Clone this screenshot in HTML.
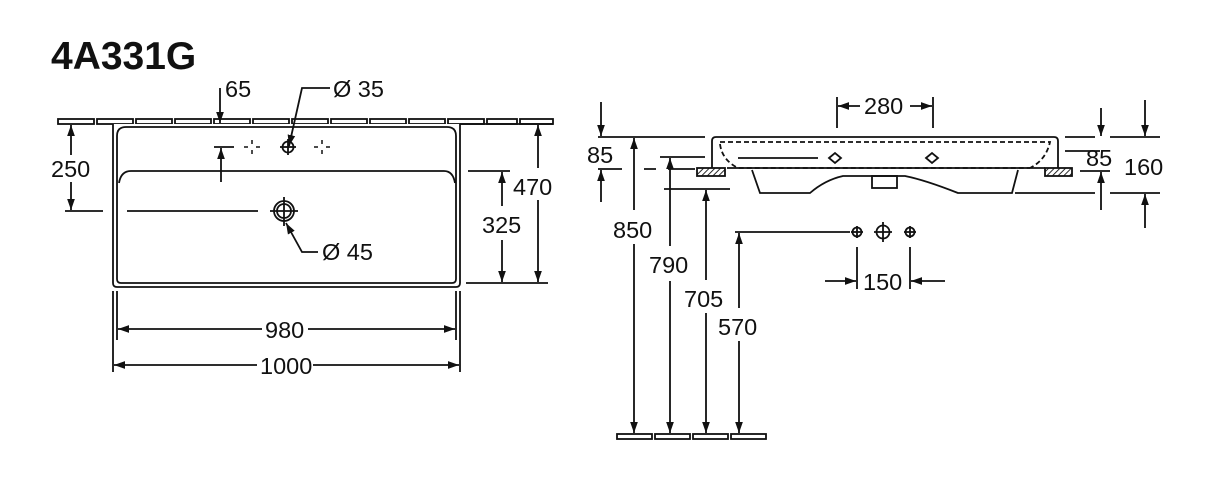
<!DOCTYPE html>
<html><head><meta charset="utf-8"><style>
html,body{margin:0;padding:0;background:#fff;}
svg{display:block;}
text{font-family:"Liberation Sans",Arial,sans-serif;font-size:23.5px;fill:#111;}
</style></head><body>
<svg width="1218" height="494" viewBox="0 0 1218 494" xmlns="http://www.w3.org/2000/svg">
<defs>
<marker id="a" viewBox="0 0 10 10" refX="10" refY="5" markerWidth="11" markerHeight="11" markerUnits="userSpaceOnUse" orient="auto-start-reverse"><path d="M0,1.5 L10,5 L0,8.5 Z" fill="#111"/></marker>
<pattern id="h" width="4" height="4" patternUnits="userSpaceOnUse" patternTransform="rotate(45)"><rect width="4" height="4" fill="#fff"/><line x1="0" y1="0" x2="0" y2="4" stroke="#111" stroke-width="1.8"/></pattern>
</defs>
<g stroke="#111" stroke-width="1.8" fill="none">
<text x="51" y="69" style="font-size:39px;font-weight:bold" stroke="none">4A331G</text>

<g>
<rect x="58" y="119" width="36" height="5"/><rect x="97" y="119" width="36" height="5"/><rect x="136" y="119" width="36" height="5"/><rect x="175" y="119" width="36" height="5"/><rect x="214" y="119" width="36" height="5"/><rect x="253" y="119" width="36" height="5"/><rect x="292" y="119" width="36" height="5"/><rect x="331" y="119" width="36" height="5"/><rect x="370" y="119" width="36" height="5"/><rect x="409" y="119" width="36" height="5"/><rect x="448" y="119" width="36" height="5"/><rect x="487" y="119" width="30" height="5"/><rect x="520" y="119" width="33" height="5"/>
</g>
<path d="M113,124 V283 Q113,287 117,287 H456 Q460,287 460,283 V124" fill="#fff"/>
<path d="M117,136 Q117,127 126,127 H447 Q456,127 456,136 V279 Q456,283 452,283 H121 Q117,283 117,279 Z"/>
<path d="M119,183 Q121,171 131,171 H444 Q453,171 455,183"/>
<circle cx="288" cy="147" r="5.5"/><line x1="280" y1="147" x2="296" y2="147"/><line x1="288" y1="139" x2="288" y2="155"/>
<g stroke-width="1.5"><line x1="244" y1="147" x2="248" y2="147"/><line x1="256" y1="147" x2="260" y2="147"/><line x1="252" y1="140" x2="252" y2="144"/><line x1="252" y1="150" x2="252" y2="154"/>
<line x1="314" y1="147" x2="318" y2="147"/><line x1="326" y1="147" x2="330" y2="147"/><line x1="322" y1="140" x2="322" y2="144"/><line x1="322" y1="150" x2="322" y2="154"/></g>
<circle cx="284" cy="211" r="10"/><circle cx="284" cy="211" r="7"/><line x1="270" y1="211" x2="298" y2="211"/><line x1="284" y1="197" x2="284" y2="226"/>
<line x1="127" y1="211" x2="258" y2="211"/>
<line x1="65" y1="211" x2="103" y2="211"/>
<line x1="71" y1="155" x2="71" y2="125" marker-end="url(#a)"/>
<line x1="71" y1="182" x2="71" y2="210" marker-end="url(#a)"/>
<text x="51" y="177" stroke="none">250</text>
<line x1="220" y1="88" x2="220" y2="123" marker-end="url(#a)"/>
<line x1="214" y1="147" x2="234" y2="147"/>
<line x1="221" y1="182" x2="221" y2="148" marker-end="url(#a)"/>
<text x="225" y="97" stroke="none">65</text>
<path d="M330,88 H302 L289,146" marker-end="url(#a)"/>
<text x="333" y="97" stroke="none">Ø 35</text>
<path d="M318,252 H302 L286,223" marker-end="url(#a)"/>
<text x="322" y="260" stroke="none">Ø 45</text>
<line x1="468" y1="171" x2="510" y2="171"/>
<line x1="466" y1="283" x2="548" y2="283"/>
<line x1="460" y1="124" x2="553" y2="124"/>
<line x1="502" y1="206" x2="502" y2="172" marker-end="url(#a)"/>
<line x1="502" y1="240" x2="502" y2="282" marker-end="url(#a)"/>
<text x="482" y="233" stroke="none">325</text>
<line x1="538" y1="168" x2="538" y2="125" marker-end="url(#a)"/>
<line x1="538" y1="200" x2="538" y2="282" marker-end="url(#a)"/>
<text x="513" y="195" stroke="none">470</text>
<line x1="117" y1="291" x2="117" y2="340"/><line x1="456" y1="291" x2="456" y2="340"/>
<line x1="113" y1="291" x2="113" y2="372"/><line x1="460" y1="291" x2="460" y2="372"/>
<line x1="262" y1="329" x2="118" y2="329" marker-end="url(#a)"/>
<line x1="308" y1="329" x2="455" y2="329" marker-end="url(#a)"/>
<text x="265" y="338" stroke="none">980</text>
<line x1="257" y1="365" x2="114" y2="365" marker-end="url(#a)"/>
<line x1="313" y1="365" x2="459" y2="365" marker-end="url(#a)"/>
<text x="260" y="374" stroke="none">1000</text>

<path d="M712,168 V141 Q712,137 716,137 H1054 Q1058,137 1058,141 V168"/>
<path d="M720,142 H1050 Q1046,160 1030,168" stroke-dasharray="5,3"/>
<path d="M720,144 Q722,160 738,168 H1030" stroke-dasharray="5,3"/>
<line x1="727" y1="168" x2="1045" y2="168"/>
<path d="M752,170 L760,193 H810 Q825,180 843,176 H905 Q925,180 958,193 H1012 L1018,170"/>
<rect x="872" y="176" width="25" height="12"/>
<line x1="738" y1="158" x2="818" y2="158"/>
<path d="M829,158 L835,153 L841,158 L835,163 Z"/><path d="M926,158 L932,153 L938,158 L932,163 Z"/>
<rect x="697" y="168" width="28" height="8" fill="url(#h)"/>
<rect x="1045" y="168" width="27" height="8" fill="url(#h)"/>
<line x1="598" y1="137" x2="705" y2="137"/>
<line x1="660" y1="157" x2="705" y2="157"/>
<path d="M598,169 H622 M644,169 H656 M668,169 H695" />
<line x1="664" y1="189" x2="730" y2="189"/>
<line x1="1065" y1="137" x2="1095" y2="137"/><line x1="1110" y1="137" x2="1160" y2="137"/>
<line x1="1065" y1="151" x2="1100" y2="151"/>
<line x1="1080" y1="171" x2="1110" y2="171"/>
<line x1="1015" y1="193" x2="1095" y2="193"/><line x1="1110" y1="193" x2="1160" y2="193"/>
<line x1="601" y1="102" x2="601" y2="136" marker-end="url(#a)"/>
<line x1="601" y1="202" x2="601" y2="170" marker-end="url(#a)"/>
<text x="587" y="163" stroke="none">85</text>
<line x1="634" y1="210" x2="634" y2="138" marker-end="url(#a)"/>
<line x1="634" y1="244" x2="634" y2="433" marker-end="url(#a)"/>
<text x="613" y="238" stroke="none">850</text>
<line x1="670" y1="246" x2="670" y2="158" marker-end="url(#a)"/>
<line x1="670" y1="281" x2="670" y2="433" marker-end="url(#a)"/>
<text x="649" y="273" stroke="none">790</text>
<line x1="706" y1="280" x2="706" y2="190" marker-end="url(#a)"/>
<line x1="706" y1="313" x2="706" y2="433" marker-end="url(#a)"/>
<text x="684" y="307" stroke="none">705</text>
<line x1="735" y1="232" x2="850" y2="232"/>
<line x1="739" y1="308" x2="739" y2="233" marker-end="url(#a)"/>
<line x1="739" y1="341" x2="739" y2="433" marker-end="url(#a)"/>
<text x="718" y="335" stroke="none">570</text>
<rect x="617" y="434" width="35" height="5"/><rect x="655" y="434" width="35" height="5"/><rect x="693" y="434" width="35" height="5"/><rect x="731" y="434" width="35" height="5"/>
<circle cx="857" cy="232" r="4.5"/><line x1="851" y1="232" x2="863" y2="232"/><line x1="857" y1="226" x2="857" y2="238"/>
<circle cx="883" cy="232" r="6.5"/><line x1="874" y1="232" x2="892" y2="232"/><line x1="883" y1="222" x2="883" y2="242"/>
<circle cx="910" cy="232" r="4.5"/><line x1="904" y1="232" x2="916" y2="232"/><line x1="910" y1="226" x2="910" y2="238"/>
<line x1="857" y1="247" x2="857" y2="289"/><line x1="910" y1="247" x2="910" y2="289"/>
<line x1="825" y1="281" x2="856" y2="281" marker-end="url(#a)"/>
<line x1="945" y1="281" x2="911" y2="281" marker-end="url(#a)"/>
<text x="863" y="290" stroke="none">150</text>
<line x1="837" y1="97" x2="837" y2="128"/><line x1="933" y1="97" x2="933" y2="128"/>
<line x1="860" y1="106" x2="838" y2="106" marker-end="url(#a)"/>
<line x1="910" y1="106" x2="932" y2="106" marker-end="url(#a)"/>
<text x="864" y="114" stroke="none">280</text>
<line x1="1101" y1="108" x2="1101" y2="136" marker-end="url(#a)"/>
<line x1="1101" y1="210" x2="1101" y2="172" marker-end="url(#a)"/>
<text x="1086" y="166" stroke="none">85</text>
<line x1="1145" y1="100" x2="1145" y2="136" marker-end="url(#a)"/>
<line x1="1145" y1="228" x2="1145" y2="194" marker-end="url(#a)"/>
<text x="1124" y="175" stroke="none">160</text>
</g>
</svg>
</body></html>
